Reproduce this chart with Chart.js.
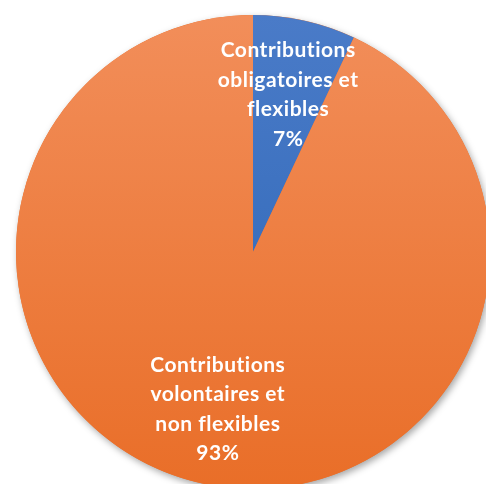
<!DOCTYPE html>
<html>
<head>
<meta charset="utf-8">
<script src="https://cdn.jsdelivr.net/npm/chart.js@4"></script>
<style>
  html, body { margin: 0; padding: 0; background: #fff; overflow: hidden; }
  #wrap { position: absolute; left: 0; top: 0; width: 520px; height: 520px; }
</style>
</head>
<body>
<div id="wrap"><canvas id="pieChartCanvas"></canvas></div>
<script>
const labels = [
    ['Contributions', 'obligatoires et', 'flexibles'],
    ['Contributions', 'volontaires et', 'non flexibles']
];
const values = [7, 93];
const percentLabels = ['7%', '93%'];

// gradient top -> bottom for each slice
const colorStops = [
    ['#4A7BC8', '#2A64B4'],
    ['#F28E5A', '#E96E28']
];

const ctx = document.getElementById('pieChartCanvas').getContext('2d');

const shadowPlugin = {
    id: 'pieShadow',
    beforeDatasetsDraw(chart) {
        const arc = chart.getDatasetMeta(0).data[0];
        if (!arc) return;
        const c = chart.ctx;
        c.save();
        c.shadowColor = 'rgba(0,0,0,0.35)';
        c.shadowBlur = 7;
        c.shadowOffsetX = 2;
        c.shadowOffsetY = 3;
        c.fillStyle = '#E96E28';
        c.beginPath();
        c.arc(arc.x, arc.y, arc.outerRadius, 0, Math.PI * 2);
        c.fill();
        c.restore();
    }
};

const labelPlugin = {
    id: 'sliceLabels',
    afterDatasetsDraw(chart) {
        const c = chart.ctx;
        const meta = chart.getDatasetMeta(0);
        c.save();
        c.fillStyle = '#ffffff';
        c.font = 'bold 21px Lato, "Open Sans", sans-serif';
        c.letterSpacing = '0.5px'; // also avoids the "ti" ligature
        c.textAlign = 'center';
        c.textBaseline = 'middle';
        meta.data.forEach((arc, i) => {
            const mid = (arc.startAngle + arc.endAngle) / 2;
            const r = arc.outerRadius * 0.68;
            const x = arc.x + Math.cos(mid) * r;
            const y = arc.y + Math.sin(mid) * r;
            const lines = labels[i].concat([percentLabels[i]]);
            const lh = 29.5;
            lines.forEach((line, j) => {
                c.fillText(line, x, y + (j - (lines.length - 1) / 2) * lh);
            });
        });
        c.restore();
    }
};

new Chart(ctx, {
    type: 'pie',
    data: {
        labels: labels.map(l => l.join(' ')),
        datasets: [{
            data: values,
            borderWidth: 0,
            backgroundColor: function(context) {
                const chart = context.chart;
                const area = chart.chartArea;
                const stops = colorStops[context.dataIndex];
                if (!area) return stops[0];
                const g = chart.ctx.createLinearGradient(0, area.top, 0, area.bottom);
                g.addColorStop(0, stops[0]);
                g.addColorStop(1, stops[1]);
                return g;
            }
        }]
    },
    options: {
        responsive: true,
        maintainAspectRatio: false,
        animation: false,
        layout: {
            padding: { left: 16, top: 15, right: 30, bottom: 31 }
        },
        plugins: {
            legend: { display: false },
            tooltip: { enabled: false }
        }
    },
    plugins: [shadowPlugin, labelPlugin]
});
</script>
</body>
</html>
